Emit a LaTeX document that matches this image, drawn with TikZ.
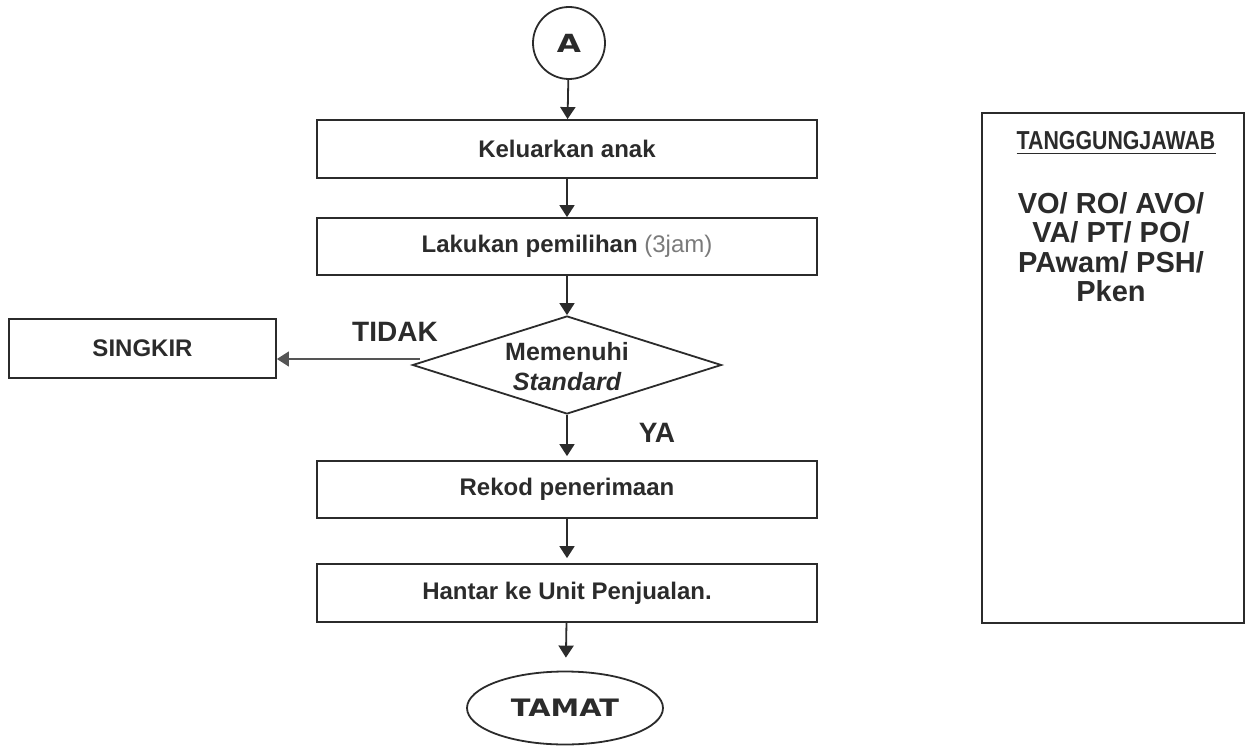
\documentclass[tikz,border=0pt]{standalone}
\usepackage{fontspec}
\setmainfont{Liberation Sans}
\newfontfamily\dejavu{DejaVu Sans}
\usetikzlibrary{shapes.geometric,arrows.meta}
\definecolor{ink}{HTML}{2B2B2B}
\definecolor{grayt}{HTML}{7A7A7A}
\definecolor{thin}{HTML}{555555}
\begin{document}
\begin{tikzpicture}[x=1pt,y=-1pt,
  box/.style={draw=ink,line width=1.8pt,minimum width=500pt,minimum height=58pt,inner sep=0pt,
    font=\fontsize{24}{28}\selectfont\bfseries,text=ink},
  arr/.style={draw=ink,line width=1.8pt,-{Triangle[length=12pt,width=15pt]}},
  lbl/.style={font=\fontsize{28}{30}\selectfont\bfseries,text=ink,inner sep=0pt}]
\useasboundingbox (0,0) rectangle (1247,746);
% start connector
\node[circle,draw=ink,line width=1.8pt,minimum size=72pt,inner sep=0pt,text=ink] (a) at (569,43)
  {\dejavu\bfseries\fontsize{25}{25}\selectfont\scalebox{1.25}[1]{A}};
% process boxes
\node[box] (b1) at (567,149) {Keluarkan anak};
\node[box,minimum height=57pt] (b2) at (567,246.5) {Lakukan pemilihan {\mdseries\color{grayt}(3jam)}};
\node[diamond,draw=ink,line width=1.8pt,aspect=3.15,minimum width=309pt,minimum height=98pt,inner sep=0pt] (d) at (567,365) {};
\node[align=center,inner sep=0pt,font=\fontsize{25}{30}\selectfont\bfseries,text=ink] (dt) at (567,367)
  {Memenuhi\\\itshape Standard};
\node[box,minimum width=267pt,minimum height=59pt] (s) at (142.5,348.5) {SINGKIR};
\node[box,minimum height=57pt] (b3) at (567,489.5) {Rekod penerimaan};
\node[box] (b4) at (567,593) {Hantar ke Unit Penjualan.};
\node[ellipse,draw=ink,line width=1.8pt,minimum width=196pt,minimum height=73pt,inner sep=0pt,text=ink] (t) at (565,708)
  {\dejavu\bfseries\fontsize{24}{24}\selectfont\scalebox{1.2}[1]{TAMAT}};
% labels
\node[lbl] (tidak) at (395,332) {TIDAK};
\node[lbl] (ya) at (657,433) {YA};
% connectors
\draw[arr] (a) -- (b1);
\draw[arr] (b1) -- (b2);
\draw[arr] (b2) -- (d);
\draw[arr,shorten >=4pt] (d) -- (b3);
\draw[arr,shorten >=5pt] (b3) -- (b4);
\draw[arr,shorten >=13pt] (b4) -- (t);
\draw[arr,draw=thin,line width=1.2pt] ([yshift=6pt,xshift=8pt]d.west) -- ([yshift=6pt]d.west -| s.east);
% responsibility box
\node[draw=ink,line width=1.5pt,minimum width=262pt,minimum height=510pt,inner sep=0pt] (r) at (1113,368) {};
\node[inner sep=0pt,anchor=base,text=ink,font=\fontsize{26}{28}\selectfont\bfseries] (tg) at (1116,150)
  {\scalebox{0.82}[1]{TANGGUNGJAWAB}};
\draw[ink,line width=1.8pt] ([yshift=-3.5pt]tg.base west) -- ([yshift=-3.5pt]tg.base east);
\node[inner sep=0pt,anchor=north,align=center,text=ink,font=\fontsize{29}{29.5}\selectfont\bfseries] (rt) at (1111,192)
  {VO/ RO/ AVO/\\VA/ PT/ PO/\\PAwam/ PSH/\\Pken};
\end{tikzpicture}
\end{document}
